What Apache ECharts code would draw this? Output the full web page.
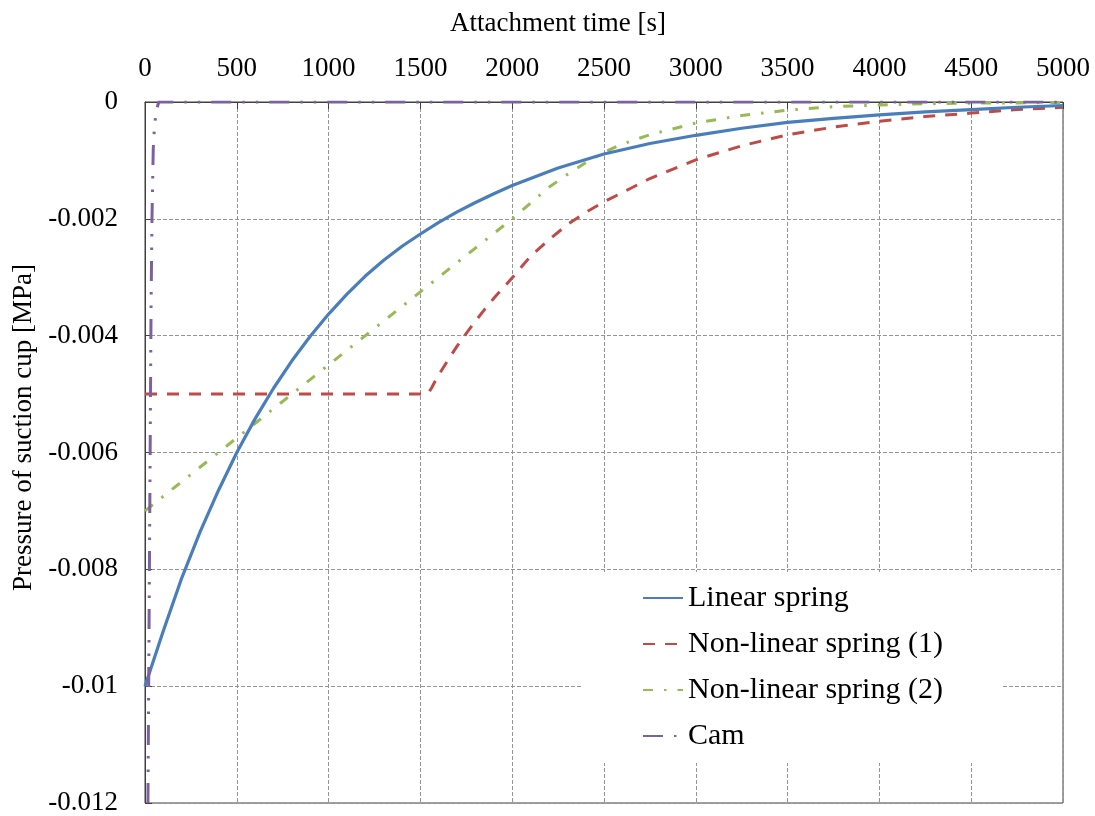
<!DOCTYPE html>
<html>
<head>
<meta charset="utf-8">
<script src="https://cdn.jsdelivr.net/npm/echarts@6/dist/echarts.min.js"></script>
<style>html,body{margin:0;padding:0;background:#fff}#c{width:1095px;height:816px}</style>
</head>
<body>
<div id="c"></div>
<script>
var seriesNames = ['Linear spring', 'Non-linear spring (1)', 'Non-linear spring (2)', 'Cam'];

var linearT = [0, 100, 200, 300, 400, 500, 600, 700, 800, 900, 1000, 1100, 1200, 1300, 1400, 1500, 1600, 1700, 1800, 1900, 2000, 2250, 2500, 2750, 3000, 3250, 3500, 3750, 4000, 4250, 4500, 4750, 5000];
var linearP = [-0.01000, -0.00905, -0.00815, -0.00736, -0.00665, -0.00600, -0.00542, -0.00490, -0.00443, -0.00401, -0.00363, -0.00329, -0.00298, -0.00271, -0.00247, -0.00226, -0.00206, -0.00188, -0.00172, -0.00157, -0.00143, -0.00113, -0.00089, -0.00071, -0.00057, -0.00045, -0.00035, -0.00028, -0.00022, -0.00017, -0.00013, -0.00009, -0.00006];

var nl1T = [0, 1540, 1560, 1580, 1600, 1650, 1700, 1750, 1800, 1850, 1900, 2000, 2100, 2200, 2300, 2400, 2500, 2750, 3000, 3250, 3500, 3750, 4000, 4250, 4500, 4750, 5000];
var nl1P = [-0.0050, -0.0050, -0.00490, -0.00478, -0.00467, -0.00442, -0.00418, -0.00396, -0.00375, -0.00355, -0.00336, -0.00301, -0.00264, -0.00236, -0.00210, -0.00189, -0.00171, -0.00131, -0.00099, -0.00075, -0.00056, -0.00043, -0.00033, -0.00025, -0.00019, -0.00013, -0.00009];

var nl2T = [0, 1000, 2000, 2100, 2200, 2300, 2400, 2500, 2600, 2750, 3000, 3250, 3500, 3750, 4000, 4250, 4500, 5000];
var nl2P = [-0.0070, -0.0045, -0.0020, -0.00173, -0.00146, -0.00124, -0.00104, -0.00086, -0.00072, -0.00056, -0.00036, -0.00023, -0.00014, -0.00008, -0.00005, -0.00003, -0.00002, -0.00001];

var camT = [16, 20, 26, 33, 38, 45, 52, 58, 66, 75, 5000];
var camP = [-0.012, -0.010, -0.007, -0.0035, -0.002, -0.0008, -0.0004, -0.00025, -0.0001, 0, 0];

var xTitle = 'Attachment time [s]';
var yTitle = 'Pressure of suction cup [MPa]';

function pairs(t, p) { return t.map(function (v, i) { return [v, p[i]]; }); }

var FONT = "'Liberation Serif', 'Times New Roman', serif";
var chart = echarts.init(document.getElementById('c'), null, { renderer: 'canvas' });

var gridLine = { show: true, lineStyle: { color: '#959595', width: 1, type: [4, 2] } };

chart.setOption({
  animation: false,
  backgroundColor: '#ffffff',
  textStyle: { fontFamily: FONT },
  grid: { left: 145, right: 32, top: 102, bottom: 13, show: true, borderColor: '#404040', borderWidth: 1, containLabel: false, outerBoundsMode: 'none' },
  xAxis: {
    type: 'value', position: 'top', min: 0, max: 5000, interval: 500,
    name: xTitle, nameLocation: 'middle', nameGap: 65,
    nameTextStyle: { fontFamily: FONT, fontSize: 27, color: '#000', padding: [0, 92, 0, 0] },
    axisLine: { show: true, onZero: false, lineStyle: { color: '#404040', width: 1 } },
    axisTick: { show: true, inside: true, length: 7, lineStyle: { color: '#404040' } },
    axisLabel: { fontFamily: FONT, fontSize: 27, color: '#000', margin: 20, formatter: function (v) { return String(v); } },
    splitLine: gridLine
  },
  yAxis: {
    type: 'value', min: -0.012, max: 0, interval: 0.002,
    name: yTitle, nameLocation: 'middle', nameGap: 108, nameRotate: 90,
    nameTextStyle: { fontFamily: FONT, fontSize: 27, color: '#000', padding: [0, 0, 0, 50] },
    axisLine: { show: true, onZero: false, lineStyle: { color: '#404040', width: 1 } },
    axisTick: { show: true, inside: true, length: 7, lineStyle: { color: '#404040' } },
    axisLabel: { fontFamily: FONT, fontSize: 27, color: '#000', margin: 27 },
    splitLine: gridLine
  },
  legend: {
    orient: 'vertical', left: 582, top: 572,
    padding: [11, 60, 12, 60],
    backgroundColor: '#ffffff',
    itemWidth: 40, itemHeight: 14, itemGap: 16,
    itemStyle: { opacity: 0 },
    textStyle: { fontFamily: FONT, fontSize: 30, color: '#000', lineHeight: 30 },
    data: seriesNames
  },
  series: [
    { name: seriesNames[0], type: 'line', symbol: 'none', data: pairs(linearT, linearP),
      lineStyle: { color: '#4A7EBB', width: 3.2, join: 'round' }, itemStyle: { color: '#4A7EBB' }, z: 5 },
    { name: seriesNames[1], type: 'line', symbol: 'none', data: pairs(nl1T, nl1P),
      lineStyle: { color: '#BE4B48', width: 3, type: [12, 10], join: 'round' }, itemStyle: { color: '#BE4B48' }, z: 4 },
    { name: seriesNames[2], type: 'line', symbol: 'none', data: pairs(nl2T, nl2P),
      lineStyle: { color: '#98B954', width: 3, type: [10, 11, 2.5, 11], join: 'round' }, itemStyle: { color: '#98B954' }, z: 4 },
    { name: seriesNames[3], type: 'line', symbol: 'none', data: pairs(camT, camP),
      lineStyle: { color: '#7D60A0', width: 3, type: [20, 11, 2.5, 11, 2.5, 11], join: 'round' }, itemStyle: { color: '#7D60A0' }, z: 6 }
  ]
});
</script>
</body>
</html>
